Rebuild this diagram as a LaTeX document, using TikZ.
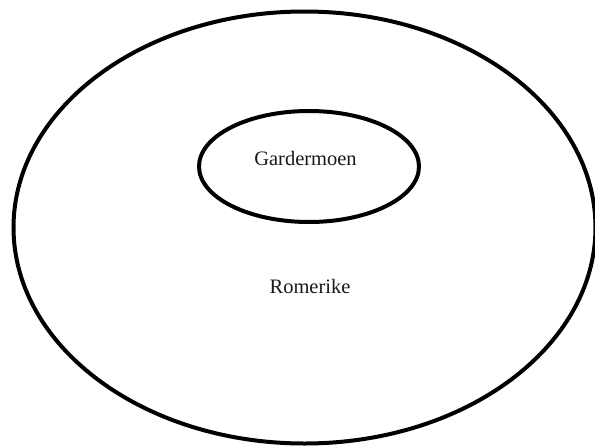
\documentclass[tikz,border=0pt]{standalone}
\usepackage{fontspec}
\setmainfont{Liberation Serif}
\usetikzlibrary{shapes.geometric}
\begin{document}
\begin{tikzpicture}[x=1pt,y=-1pt,
  region/.style={draw=black,line width=4pt,ellipse,inner sep=0pt},
  lbl/.style={font=\fontsize{20.5}{24}\selectfont,anchor=base,inner sep=0pt,text=black!90}]
\useasboundingbox (0,0) rectangle (595,445);
\node[region,minimum width=582pt,minimum height=432pt] (outer) at (304.5,227.5) {};
\node[region,minimum width=220pt,minimum height=111pt] (inner) at (309,166.5) {};
\node[lbl] (gard) at (305.5,165) {Gardermoen};
\node[lbl] (rom) at (310,293) {Romerike};
\end{tikzpicture}
\end{document}
